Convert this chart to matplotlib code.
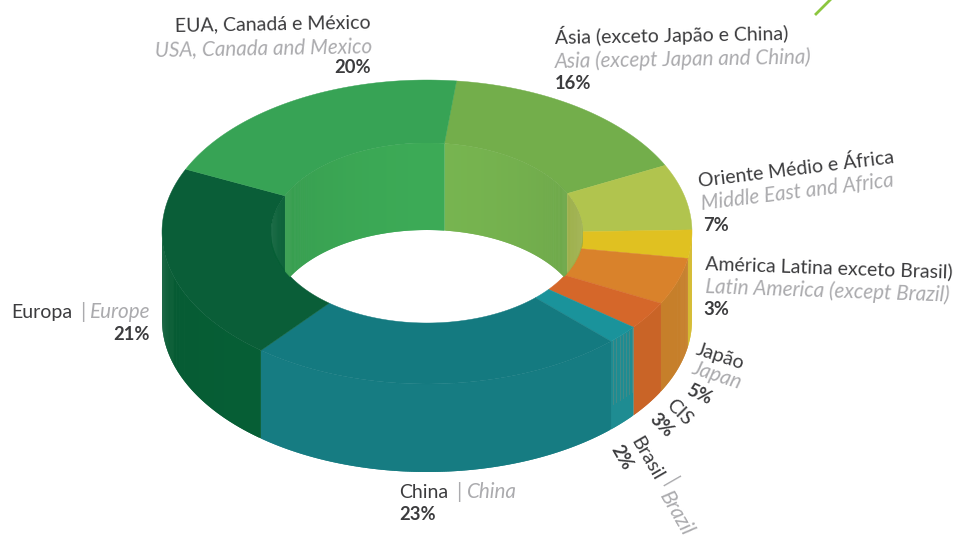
#!/usr/bin/env python3
"""3D donut of sales share by region, drawn as polygons in pixel-like axes."""

import numpy as np
import matplotlib
matplotlib.use('Agg')
import matplotlib.pyplot as plt
from matplotlib.colors import to_rgb
from matplotlib.patches import Ellipse, Polygon

plt.rcParams['font.family'] = ['Lato', 'DejaVu Sans']

# Slices clockwise, starting at the Asia slice
regions = ['Ásia', 'Oriente Médio e África', 'América Latina', 'Japão', 'CIS',
           'Brasil', 'China', 'Europa', 'EUA, Canadá e México']
shares = [16, 7, 3, 5, 3, 2, 23, 21, 20]
top_colors = ['#73AE4B', '#B1C44E', '#E0C121', '#D9822B', '#D5672A',
              '#1A939B', '#147A80', '#0A5E38', '#37A355']
side_colors = ['#6A9F45', '#9DB04A', '#D4B825', '#C67F2A', '#C96427',
               '#1E8C92', '#167C82', '#065E35', '#3CAA56']

START = 6.4  # degrees clockwise from the top
CX, CY = 427, 232
RX_OUT, RY_OUT = 265, 152
RX_IN, RY_IN = 156, 90
CY_IN = 233
DEPTH = 88
STEP = 0.4


def ring_point(t, rx, ry, cy):
    a = np.radians(t)
    return CX + rx * np.sin(a), cy - ry * np.cos(a)


def shade(color, f):
    return tuple(min(1, c * f) for c in to_rgb(color))


def strip(t0, t1, rx, ry, cy, depth, color, zorder):
    # later strips cover the soft edge of the one before, so no seams show
    ts = np.linspace(t0, t1, 4)
    x, y = ring_point(ts, rx, ry, cy)
    pts = np.column_stack([np.r_[x, x[::-1]], np.r_[y, y[::-1] + depth]])
    p = Polygon(pts, fc=color, ec='none', lw=0, zorder=zorder)
    ax.add_patch(p)
    return p


fig = plt.figure(figsize=(9.56, 5.38), dpi=100)
ax = fig.add_axes([0, 0, 1, 1])
ax.set_xlim(0, 956)
ax.set_ylim(538, 0)
ax.axis('off')

edges = START + np.cumsum([0] + shares) * 3.6

# outer wall, only the front half shows
for i, (t0, t1) in enumerate(zip(edges[:-1], edges[1:])):
    t0, t1 = max(t0, 90), min(t1, 270)
    if t1 <= t0:
        continue
    for t in np.arange(t0, t1, STEP):
        # a bit darker toward the silhouette on the left
        f = 1.0 - 0.05 * (t - 225) / 45 if t > 225 else 1.0
        strip(t, min(t + 2 * STEP, t1), RX_OUT, RY_OUT, CY, DEPTH, shade(side_colors[i], f), 2)
    if regions[i] == 'Brasil':
        # the fine grey-brown streaks on this wall
        for t in np.arange(t0 + 0.6, t1, 1.0):
            x, y = ring_point(t, RX_OUT, RY_OUT, CY)
            ax.plot([x, x], [y, y + 0.72 * DEPTH], color='#5E8A80', lw=0.6, alpha=0.7, zorder=2.5)

# top faces
for i, (t0, t1) in enumerate(zip(edges[:-1], edges[1:])):
    ts = np.linspace(t0, t1, 80)
    xo, yo = ring_point(ts, RX_OUT, RY_OUT, CY)
    xi, yi = ring_point(ts[::-1], RX_IN, RY_IN, CY_IN)
    pts = np.column_stack([np.r_[xo, xi], np.r_[yo, yi]])
    ax.add_patch(Polygon(pts, fc=top_colors[i], ec=top_colors[i], lw=0.3, zorder=3))

# inner wall seen through the hole, clipped just past the inner rim
rim = Ellipse((CX, CY_IN), 2 * RX_IN + 1.4, 2 * RY_IN + 1.4, fill=False, ec='none', zorder=4)
ax.add_patch(rim)
for i, (t0, t1) in enumerate(zip(edges[:-1], edges[1:])):
    for a, b in [(t0, min(t1, 90)), (max(t0, 270), t1)]:
        if b <= a:
            continue
        for t in np.arange(a, b, STEP):
            d = abs((t + 180) % 360 - 180)
            f = 1.0 - 0.12 * (d / 90) ** 1.5 if i in (0, 8) else 1.0
            c = shade(side_colors[i] if i != 0 else '#77B550', f)
            p = strip(t, min(t + 2 * STEP, b), RX_IN, RY_IN, CY_IN, DEPTH - 1, c, 5)
            p.set_clip_path(rim)

# stray line at the top edge of the page
ax.plot([816, 830], [14, 0], color='#8CC63F', lw=2, zorder=1)

DARK = '#3C3C3E'
GREY = '#ABABAE'
STYLES = {'pt': dict(color=DARK, fontsize=14.0),
          'en': dict(color=GREY, style='italic', fontsize=14.9),
          'pct': dict(color=DARK, weight='bold', fontsize=13.2)}


def label(x, y, s, kind='pt', ha='left', rot=0):
    ax.text(x, y, s, ha=ha, va='baseline', rotation=rot, rotation_mode='anchor',
            zorder=6, **STYLES[kind])


label(371, 28, 'EUA, Canadá e México', ha='right', rot=1)
label(372, 52, 'USA, Canada and Mexico', 'en', ha='right', rot=1)
label(371, 73, '20%', 'pct', ha='right')

label(555, 44, 'Ásia (exceto Japão e China)', rot=1)
label(555, 68, 'Asia (except Japan and China)', 'en', rot=1)
label(555, 89, '16%', 'pct')

label(699, 187, 'Oriente Médio e África', rot=7)
label(702, 210, 'Middle East and Africa', 'en', rot=7)
label(703, 231, '7%', 'pct')

label(705, 269, 'América Latina exceto Brasil)', rot=-2)
label(705, 293, 'Latin America (except Brazil)', 'en', rot=-2)
label(703, 315, '3%', 'pct')

label(695, 354, 'Japão', rot=-18)
label(691, 373, 'Japan', 'en', rot=-18)
label(685, 394, '5%', 'pct', rot=-25)

label(665, 406, 'CIS', rot=-45)
label(648, 420, '3%', 'pct', rot=-45)

label(630, 441, 'Brasil', rot=-60)
label(664, 482, '|', 'en', rot=-60)
label(659, 496, 'Brazil', 'en', rot=-60)
label(610, 449, '2%', 'pct', rot=-60)

label(11, 318, 'Europa')
label(80, 318, '|', 'en')
label(90, 318, 'Europe', 'en')
label(150, 340, '21%', 'pct', ha='right')

label(399, 498, 'China')
label(456, 498, '|', 'en')
label(467, 498, 'China', 'en')
label(399, 520, '23%', 'pct')

fig.savefig('out.png', dpi=100)
